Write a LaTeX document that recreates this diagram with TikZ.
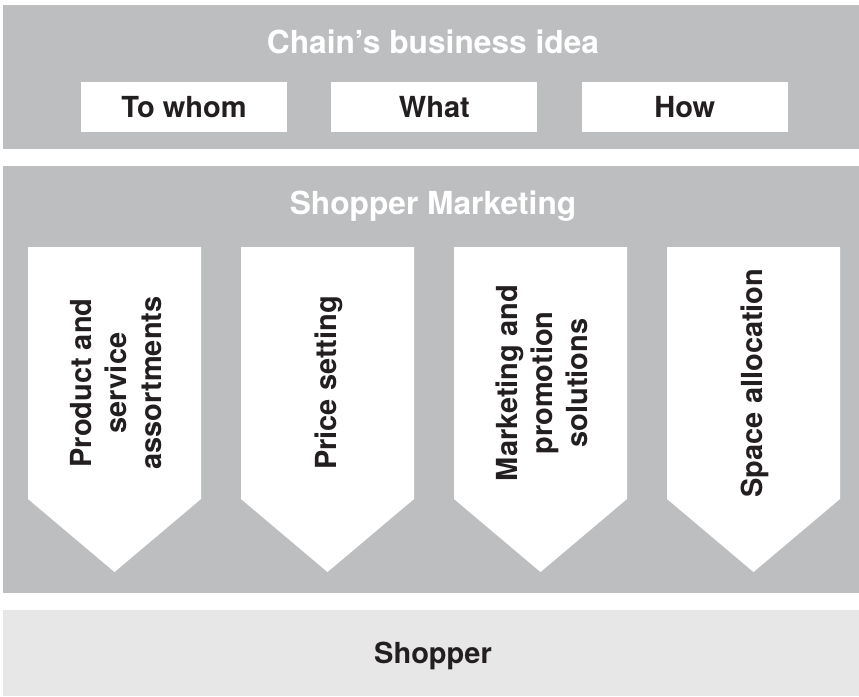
\documentclass[tikz,border=0pt]{standalone}
\usepackage{fontspec}
\setmainfont{TeX Gyre Heros}
\usetikzlibrary{positioning}
\definecolor{bandgray}{HTML}{BDBEC0}
\definecolor{basegray}{HTML}{E6E7E6}
\definecolor{inkblack}{HTML}{231F20}

\begin{document}
\begin{tikzpicture}[x=1pt,y=-1pt,node distance=44pt,
	band/.style={fill=bandgray},
	head/.style={anchor=base,text=white,font=\fontsize{31.7}{38}\selectfont\bfseries},
	idea box/.style={fill=white,minimum width=206pt,minimum height=50pt,inner sep=0pt,text=inkblack,font=\fontsize{29}{35}\selectfont\bfseries},
	lever/.style={rotate=90,align=center,inner sep=0pt,text=inkblack,font=\fontsize{29}{35}\selectfont\bfseries}]
	\useasboundingbox (0,0) rectangle (859,696);

	% the three bands
	\fill[band] (3,5) rectangle (859,149);
	\fill[band] (3,166) rectangle (859,593);
	\fill[basegray] (3,610) rectangle (859,696);

	% business idea
	\node[head] (idea) at (433,53) {Chain’s business idea};
	\node[idea box] (whom) at (184,107) {To whom};
	\node[idea box] (what) [right=of whom] {What};
	\node[idea box] (how) [right=of what] {How};

	% shopper marketing levers
	\node[head] (sm) at (433,214) {Shopper Marketing};
	\foreach \i/\txt in {0/{Product and\\service\\assortments},1/{Price setting},2/{Marketing and\\promotion\\solutions},3/{Space allocation}} {
		\fill[white] (28+213*\i,247) -- (201+213*\i,247) -- (201+213*\i,499)
			-- (114.5+213*\i,572) -- (28+213*\i,499) -- cycle;
		\node[lever] (lever\i) at (116+213*\i,383) {\txt};
	}

	% shopper
	\node[head,text=inkblack,font=\fontsize{29}{35}\selectfont\bfseries] (shopper) at (433,663) {Shopper};
\end{tikzpicture}
\end{document}
